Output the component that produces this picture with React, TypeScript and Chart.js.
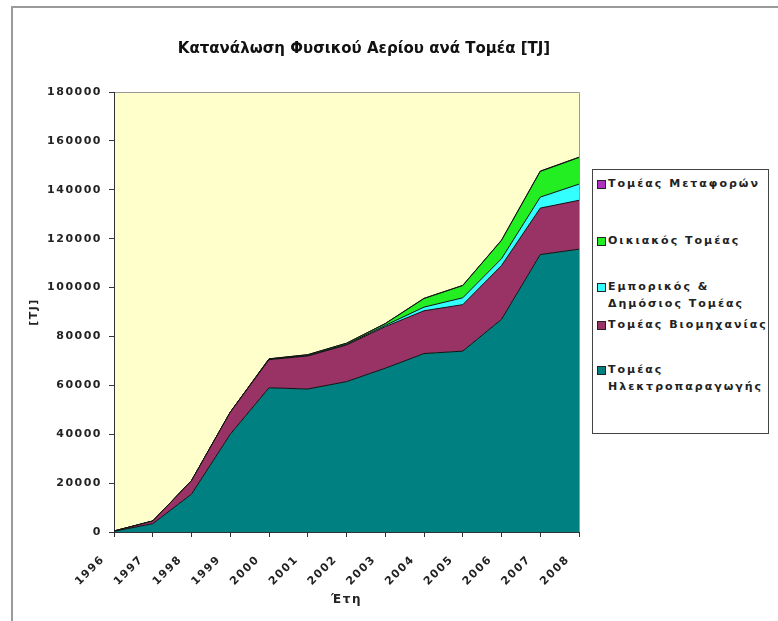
import React, { useEffect, useRef } from 'react';
import { Chart, registerables } from 'chart.js';
Chart.register(...registerables);

const years = ['1996', '1997', '1998', '1999', '2000', '2001', '2002', '2003', '2004', '2005', '2006', '2007', '2008'];
const electricity = [300, 3400, 15500, 40000, 59000, 58500, 61500, 67000, 73000, 74000, 87000, 113500, 115700];
const industry = [100, 1100, 5500, 9000, 11500, 13500, 15000, 17000, 17500, 19000, 22000, 19000, 20000];
const commercial = [0, 0, 0, 0, 100, 200, 300, 500, 1500, 2800, 2800, 4500, 6600];
const residential = [0, 0, 0, 0, 200, 300, 400, 700, 3500, 5000, 7500, 10500, 10900];
const transport = [0, 0, 0, 0, 50, 50, 50, 100, 100, 100, 100, 150, 150];

const yTicks = [0, 20000, 40000, 60000, 80000, 100000, 120000, 140000, 160000, 180000];

const seriesNames = [
  'Τομέας Ηλεκτροπαραγωγής',
  'Τομέας Βιομηχανίας',
  'Εμπορικός & Δημόσιος Τομέας',
  'Οικιακός Τομέας',
  'Τομέας Μεταφορών',
];
const colors = ['#008080', '#993366', '#33FFFF', '#22EE22', '#B030C0'];

const titleText = 'Κατανάλωση Φυσικού Αερίου ανά Τομέα [TJ]';
const FONT = '"DejaVu Sans", "Liberation Sans", Arial, sans-serif';

const spacingPlugin = {
  id: 'spacing',
  beforeUpdate(chart: any) {
    chart.ctx.letterSpacing = '1.5px';
  },
  beforeDraw(chart: any) {
    chart.ctx.letterSpacing = '1.5px';
  },
};

const bgPlugin = {
  id: 'plotBg',
  beforeDraw(chart: any) {
    const { ctx, chartArea } = chart;
    ctx.save();
    ctx.fillStyle = '#FFFFCC';
    ctx.fillRect(chartArea.left, chartArea.top, chartArea.right - chartArea.left, chartArea.bottom - chartArea.top);
    ctx.strokeStyle = '#9a9a9a';
    ctx.lineWidth = 1;
    ctx.beginPath();
    ctx.moveTo(chartArea.left, chartArea.top + 0.5);
    ctx.lineTo(chartArea.right + 0.5, chartArea.top + 0.5);
    ctx.lineTo(chartArea.right + 0.5, chartArea.bottom);
    ctx.stroke();
    ctx.restore();
  },
};

const titlePlugin = {
  id: 'fixedTitle',
  afterDraw(chart: any) {
    const { ctx } = chart;
    ctx.save();
    ctx.letterSpacing = '0px';
    ctx.fillStyle = '#111';
    ctx.font = `bold 15px ${FONT}`;
    ctx.textAlign = 'center';
    ctx.textBaseline = 'middle';
    ctx.fillText(titleText, 364, 49);
    ctx.restore();
  },
};

const legendOrder = [4, 3, 2, 1, 0];
const legendLines: string[][] = [
  ['Τομέας Μεταφορών'],
  ['Οικιακός Τομέας'],
  ['Εμπορικός &', 'Δημόσιος Τομέας'],
  ['Τομέας Βιομηχανίας'],
  ['Τομέας', 'Ηλεκτροπαραγωγής'],
];
const legendTops = [5, 62, 108, 146, 191];

export default function App() {
  const ref = useRef<HTMLCanvasElement>(null);
  useEffect(() => {
    const canvas = ref.current!;
    const values = [electricity, industry, commercial, residential, transport];
    const chart = new Chart(canvas, {
      type: 'line',
      data: {
        labels: years,
        datasets: values.map((d, i) => ({
          label: seriesNames[i],
          data: d,
          backgroundColor: colors[i],
          borderColor: '#111',
          borderWidth: 1,
          fill: i === 0 ? 'origin' : '-1',
          pointRadius: 0,
          tension: 0,
        })),
      },
      options: {
        responsive: false,
        animation: false,
        devicePixelRatio: 1,
        layout: { padding: { left: 22, right: 199, top: 92, bottom: 10 } },
        plugins: {
          legend: { display: false },
          title: { display: false },
          tooltip: { enabled: false },
        },
        scales: {
          x: {
            offset: false,
            grid: { display: true, drawOnChartArea: false, drawTicks: true, tickLength: 5, color: '#333' },
            border: { color: '#333', width: 1 },
            ticks: {
              minRotation: 45,
              maxRotation: 45,
              autoSkip: false,
              labelOffset: -11,
              padding: 16,
              color: '#222',
              font: { family: FONT, size: 11, weight: 'bold' },
            },
            title: {
              display: true,
              text: 'Έτη',
              color: '#222',
              font: { family: FONT, size: 12, weight: 'bold' },
              padding: { top: 2, bottom: 4 },
            },
            afterFit: (s: any) => {
              s.height = 79;
            },
          },
          y: {
            stacked: true,
            min: 0,
            max: 180000,
            grid: { display: true, drawOnChartArea: false, drawTicks: true, tickLength: 5, color: '#333' },
            border: { color: '#333', width: 1 },
            afterBuildTicks: (s: any) => {
              s.ticks = yTicks.map((v) => ({ value: v }));
            },
            ticks: {
              padding: 7,
              color: '#222',
              font: { family: FONT, size: 11, weight: 'bold' },
              callback: (v: any) => String(v),
            },
            title: {
              display: true,
              text: '[TJ]',
              color: '#222',
              font: { family: FONT, size: 11, weight: 'bold' },
              padding: { top: 6, bottom: 4 },
            },
            afterFit: (s: any) => {
              s.width = 92;
            },
          },
        },
      },
      plugins: [spacingPlugin, bgPlugin, titlePlugin],
    });
    return () => chart.destroy();
  }, []);

  return (
    <div style={{ position: 'absolute', left: 0, top: 0, width: 778, height: 621, overflow: 'hidden', background: '#fff' }}>
      <div
        style={{
          position: 'absolute',
          left: 11,
          top: 6,
          width: 800,
          height: 700,
          borderLeft: '2px solid #9a9a9a',
          borderTop: '2px solid #9a9a9a',
        }}
      />
      <canvas ref={ref} width={778} height={621} style={{ position: 'absolute', left: 0, top: 0, width: 778, height: 621 }} />
      <div
        style={{
          position: 'absolute',
          left: 592,
          top: 169,
          width: 177,
          height: 265,
          boxSizing: 'border-box',
          border: '1px solid #444',
          background: '#fff',
          font: `bold 11px ${FONT}`,
          letterSpacing: '2px',
          color: '#222',
        }}
      >
        {legendOrder.map((si, k) => (
          <div
            key={k}
            style={{ position: 'absolute', left: 4, top: legendTops[k], display: 'flex', alignItems: 'flex-start', lineHeight: '17px' }}
          >
            <span
              style={{
                display: 'inline-block',
                width: 7,
                height: 7,
                marginTop: 5,
                marginRight: 2,
                background: colors[si],
                border: '1px solid #222',
                flex: '0 0 auto',
              }}
            />
            <span>
              {legendLines[k].map((l, j) => (
                <div key={j} style={{ whiteSpace: 'nowrap' }}>{l}</div>
              ))}
            </span>
          </div>
        ))}
      </div>
    </div>
  );
}
